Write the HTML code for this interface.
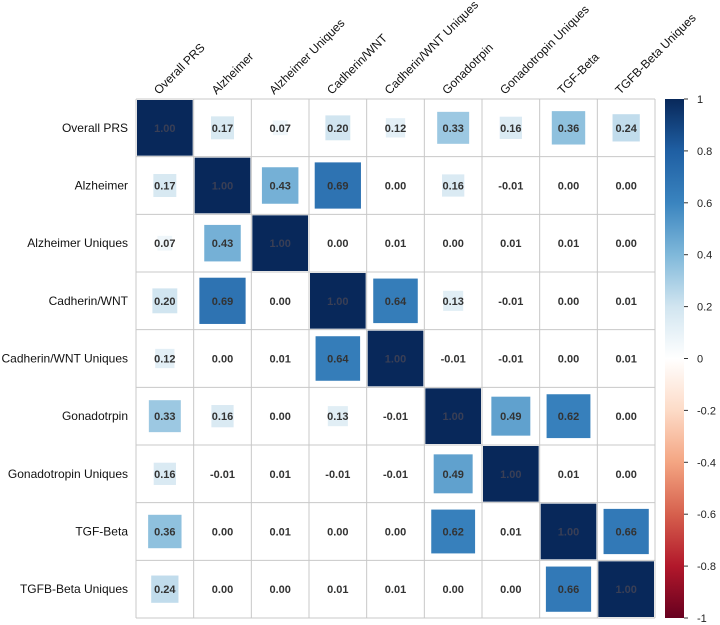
<!DOCTYPE html>
<html><head><meta charset="utf-8"><style>
html,body{margin:0;padding:0;background:#fff;}
svg{display:block;font-family:"Liberation Sans",Arial,sans-serif;}
</style></head><body>
<svg id="chart" width="720" height="625" viewBox="0 0 720 625"></svg>
<script>
const labels = ["Overall PRS","Alzheimer","Alzheimer Uniques","Cadherin/WNT","Cadherin/WNT Uniques","Gonadotrpin","Gonadotropin Uniques","TGF-Beta","TGFB-Beta Uniques"];
const row0 = [1.00,0.17,0.07,0.20,0.12,0.33,0.16,0.36,0.24];
const row1 = [0.17,1.00,0.43,0.69,0.00,0.16,-0.01,0.00,0.00];
const row2 = [0.07,0.43,1.00,0.00,0.01,0.00,0.01,0.01,0.00];
const row3 = [0.20,0.69,0.00,1.00,0.64,0.13,-0.01,0.00,0.01];
const row4 = [0.12,0.00,0.01,0.64,1.00,-0.01,-0.01,0.00,0.01];
const row5 = [0.33,0.16,0.00,0.13,-0.01,1.00,0.49,0.62,0.00];
const row6 = [0.16,-0.01,0.01,-0.01,-0.01,0.49,1.00,0.01,0.00];
const row7 = [0.36,0.00,0.01,0.00,0.00,0.62,0.01,1.00,0.66];
const row8 = [0.24,0.00,0.00,0.01,0.01,0.00,0.00,0.66,1.00];
const matrix = [row0,row1,row2,row3,row4,row5,row6,row7,row8];
const cbTicks = [1,0.8,0.6,0.4,0.2,0,-0.2,-0.4,-0.6,-0.8,-1];

const NS="http://www.w3.org/2000/svg";
const svg=document.getElementById('chart');
const X0=136,Y0=99,W=519,H=519,n=labels.length;
const cw=W/n, ch=H/n;
const stops=[[-1,"#67001F"],[-0.8,"#B2182B"],[-0.6,"#D6604D"],[-0.4,"#F4A582"],[-0.2,"#FDDBC7"],[0,"#FFFFFF"],[0.2,"#D1E5F0"],[0.4,"#7FB8DA"],[0.6,"#3A84BF"],[0.8,"#1F5FA3"],[1,"#08285A"]];
function hex(h){return [1,3,5].map(i=>parseInt(h.substr(i,2),16));}
function color(v){
  for(let i=0;i<stops.length-1;i++){
    const [a,ca]=stops[i],[b,cb]=stops[i+1];
    if(v>=a&&v<=b){const t=(v-a)/(b-a);const A=hex(ca),B=hex(cb);
      return "rgb("+A.map((x,k)=>Math.round(x+(B[k]-x)*t)).join(",")+")";}
  }
  return v>0?stops[10][1]:stops[0][1];
}
function el(tag,attrs,parent){const e=document.createElementNS(NS,tag);for(const k in attrs)e.setAttribute(k,attrs[k]);(parent||svg).appendChild(e);return e;}
const xc=j=>X0+cw*(j+0.5), yc=i=>Y0+ch*(i+0.5);
const yCb=v=>Y0+(1-v)/2*H;

for(let k=0;k<=n;k++){
  const gl=el('line',{x1:X0+cw*k,x2:X0+cw*k,y1:Y0,y2:Y0+H,stroke:"#c8c8c8","stroke-width":1});
  
  
  const gh=el('line',{x1:X0,x2:X0+W,y1:Y0+ch*k,y2:Y0+ch*k,stroke:"#c8c8c8","stroke-width":1});
  
  
}
matrix.forEach((row,i)=>row.forEach((v,j)=>{
  const s=Math.sqrt(Math.abs(v))*(cw-2);
  const r=el('rect',{x:xc(j)-s/2,y:yc(i)-s/2,width:s,height:s,fill:color(v)});
  
  
  const t=el('text',{x:xc(j),y:yc(i)+4,"text-anchor":"middle","font-size":11,"font-weight":"bold",fill:Math.abs(v)>0.9?"#3a3f55":"#333"});
  t.textContent=v.toFixed(2);
  
  
}));
labels.forEach((l,i)=>{
  const t=el('text',{x:128,y:yc(i)+4,"text-anchor":"end","font-size":12,fill:"#111"});
  t.textContent=l;
  
  
  const c=el('text',{x:0,y:0,"font-size":12,fill:"#111",transform:"translate("+(xc(i)-6)+","+(Y0-4)+") rotate(-45)"});
  c.textContent=l;
  
  
});
const defs=el('defs',{});
const g=el('linearGradient',{id:"cbg",x1:0,y1:1,x2:0,y2:0},defs);
stops.forEach(([v,c])=>el('stop',{offset:((v+1)/2*100)+"%","stop-color":c},g));
const cb=el('rect',{x:665,y:Y0,width:19,height:H,fill:"url(#cbg)"});


cbTicks.forEach(v=>{
  const tk=el('line',{x1:684,x2:688,y1:yCb(v),y2:yCb(v),stroke:"#333","stroke-width":1});
  
  
  const t=el('text',{x:697,y:yCb(v)+4,"font-size":11,fill:"#222"});
  t.textContent=String(v);
  
  
});
</script>
</body></html>
